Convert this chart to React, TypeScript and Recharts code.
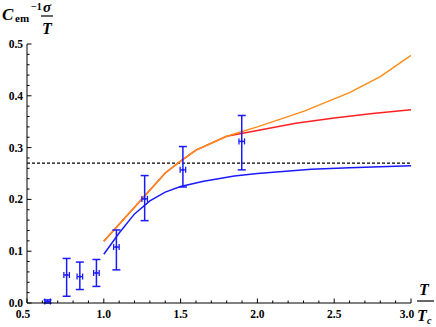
import React from "react";
import {
  ComposedChart,
  Line,
  Scatter,
  ErrorBar,
  XAxis,
  YAxis,
  ReferenceLine,
} from "recharts";

// ---- data ----
const blueX = [1.0, 1.1, 1.2, 1.3, 1.4, 1.5, 1.65, 1.85, 2.0, 2.35, 2.6, 3.0];
const blueY = [0.094, 0.135, 0.172, 0.197, 0.214, 0.225, 0.235, 0.245, 0.25, 0.258, 0.261, 0.265];

const redX = [1.0, 1.2, 1.4, 1.5, 1.6, 1.8, 2.0, 2.25, 2.5, 2.75, 3.0];
const redY = [0.119, 0.185, 0.251, 0.274, 0.295, 0.322, 0.333, 0.347, 0.357, 0.366, 0.373];

const orangeX = [1.0, 1.2, 1.4, 1.5, 1.6, 1.8, 2.0, 2.3, 2.6, 2.8, 3.0];
const orangeY = [0.119, 0.185, 0.251, 0.274, 0.295, 0.322, 0.34, 0.37, 0.406, 0.437, 0.478];

const pointX = [0.634, 0.758, 0.844, 0.952, 1.082, 1.266, 1.515, 1.898];
const pointY = [0.003, 0.054, 0.051, 0.058, 0.108, 0.201, 0.257, 0.312];
const errLow = [0.003, 0.041, 0.025, 0.026, 0.044, 0.042, 0.033, 0.055];
const errHigh = [0.003, 0.032, 0.028, 0.026, 0.033, 0.045, 0.045, 0.05];
const xErr = [0.018, 0.018, 0.018, 0.018, 0.018, 0.018, 0.018, 0.018];

const referenceLevel = 0.27;

const xMajorTicks = [0.5, 1.0, 1.5, 2.0, 2.5, 3.0];
const xAllTicks = [0.5, 0.6, 0.7, 0.8, 0.9, 1.0, 1.1, 1.2, 1.3, 1.4, 1.5, 1.6, 1.7, 1.8, 1.9, 2.0, 2.1, 2.2, 2.3, 2.4, 2.5, 2.6, 2.7, 2.8, 2.9, 3.0];
const yMajorTicks = [0.0, 0.1, 0.2, 0.3, 0.4, 0.5];
const yAllTicks = [0, 0.02, 0.04, 0.06, 0.08, 0.1, 0.12, 0.14, 0.16, 0.18, 0.2, 0.22, 0.24, 0.26, 0.28, 0.3, 0.32, 0.34, 0.36, 0.38, 0.4, 0.42, 0.44, 0.46, 0.48, 0.5];

// ---- derived tables ----
const toSeries = (xs: number[], ys: number[]) => xs.map((x, i) => ({ x, y: ys[i] }));
const blueData = toSeries(blueX, blueY);
const redData = toSeries(redX, redY);
const orangeData = toSeries(orangeX, orangeY);
const pointData = pointX.map((x, i) => ({
  x,
  y: pointY[i],
  ey: [errLow[i], errHigh[i]],
  ex: xErr[i],
}));

const isMajor = (v: number, majors: number[]) => majors.some((m) => Math.abs(m - v) < 1e-6);

const FONT = "Liberation Serif, DejaVu Serif, serif";
const BLUE = "#1a1aff";

const XTick = (props: any) => {
  const { x, y, payload } = props;
  const v = payload.value as number;
  const major = isMajor(v, xMajorTicks);
  const first = Math.abs(v - xMajorTicks[0]) < 1e-6;
  const last = Math.abs(v - xMajorTicks[xMajorTicks.length - 1]) < 1e-6;
  const shift = first ? -4 : last ? -4 : 0;
  return (
    <g>
      <line x1={x} x2={x} y1={y} y2={y - (major ? 4.5 : 2.5)} stroke="#000" strokeWidth={1} />
      {major && (
        <text x={x + shift} y={y + 15} textAnchor="middle" fontFamily={FONT} fontWeight="bold" fontSize={11.5} fill="#000">
          {v.toFixed(1)}
        </text>
      )}
    </g>
  );
};

const YTick = (props: any) => {
  const { x, y, payload } = props;
  const v = payload.value as number;
  const major = isMajor(v, yMajorTicks);
  return (
    <g>
      <line x1={x} x2={x + (major ? 4.5 : 2.5)} y1={y} y2={y} stroke="#000" strokeWidth={1} />
      {major && (
        <text x={x - 4} y={y} dy="0.35em" textAnchor="end" fontFamily={FONT} fontWeight="bold" fontSize={11.5} fill="#000">
          {v.toFixed(1)}
        </text>
      )}
    </g>
  );
};

const PointShape = (props: any) => {
  const { cx, cy } = props;
  return <circle cx={cx} cy={cy} r={1.2} fill={BLUE} />;
};

export default function App() {
  return (
    <div style={{ position: "absolute", left: 0, top: 0, width: 436, height: 327, background: "#fff" }}>
      <ComposedChart
        width={436}
        height={327}
        margin={{ top: 44, right: 25, left: 0, bottom: 0 }}
      >
        <XAxis
          type="number"
          dataKey="x"
          domain={[0.5, 3.0]}
          ticks={xAllTicks}
          interval={0}
          allowDataOverflow
          height={24}
          tickSize={0}
          tickMargin={0}
          tickLine={false}
          tick={<XTick />}
          axisLine={{ stroke: "#000", strokeWidth: 1 }}
        />
        <YAxis
          type="number"
          dataKey="y"
          domain={[0, 0.5]}
          ticks={yAllTicks}
          interval={0}
          allowDataOverflow
          width={27}
          tickSize={0}
          tickMargin={0}
          tickLine={false}
          tick={<YTick />}
          axisLine={{ stroke: "#000", strokeWidth: 1 }}
        />
        <ReferenceLine y={referenceLevel} stroke="#000" strokeDasharray="3 2" strokeWidth={1.2} />
        <Line data={blueData} dataKey="y" type="linear" stroke={BLUE} strokeWidth={1.5} dot={false} isAnimationActive={false} />
        <Line data={redData} dataKey="y" type="linear" stroke="#ff2020" strokeWidth={1.5} dot={false} isAnimationActive={false} />
        <Line data={orangeData} dataKey="y" type="linear" stroke="#ff8c1a" strokeWidth={1.5} dot={false} isAnimationActive={false} />
        <Scatter data={pointData} dataKey="y" fill={BLUE} shape={<PointShape />} isAnimationActive={false}>
          <ErrorBar dataKey="ey" direction="y" width={4} stroke={BLUE} strokeWidth={1.5} isAnimationActive={false} />
          <ErrorBar dataKey="ex" direction="x" width={3} stroke={BLUE} strokeWidth={1.3} isAnimationActive={false} />
        </Scatter>
      </ComposedChart>
      <svg width={436} height={327} style={{ position: "absolute", left: 0, top: 0, pointerEvents: "none" }}>
        <g fontFamily={FONT} fontWeight="bold" fill="#000">
          <text x={2} y={20} fontSize={17} fontStyle="italic">C</text>
          <text x={15} y={22} fontSize={11}>em</text>
          <text x={31} y={10} fontSize={10}>−1</text>
          <text x={47} y={12} fontSize={15} fontStyle="italic" textAnchor="middle">σ</text>
          <line x1={41} x2={53} y1={16} y2={16} stroke="#000" strokeWidth={1.2} />
          <text x={47} y={34} fontSize={16} fontStyle="italic" textAnchor="middle">T</text>

          <text x={424} y={295} fontSize={16} fontStyle="italic" textAnchor="middle">T</text>
          <line x1={417} x2={434} y1={301} y2={301} stroke="#000" strokeWidth={1.2} />
          <text x={417} y={321} fontSize={16} fontStyle="italic">T</text>
          <text x={427} y={324} fontSize={10} fontStyle="italic">c</text>
        </g>
      </svg>
    </div>
  );
}
